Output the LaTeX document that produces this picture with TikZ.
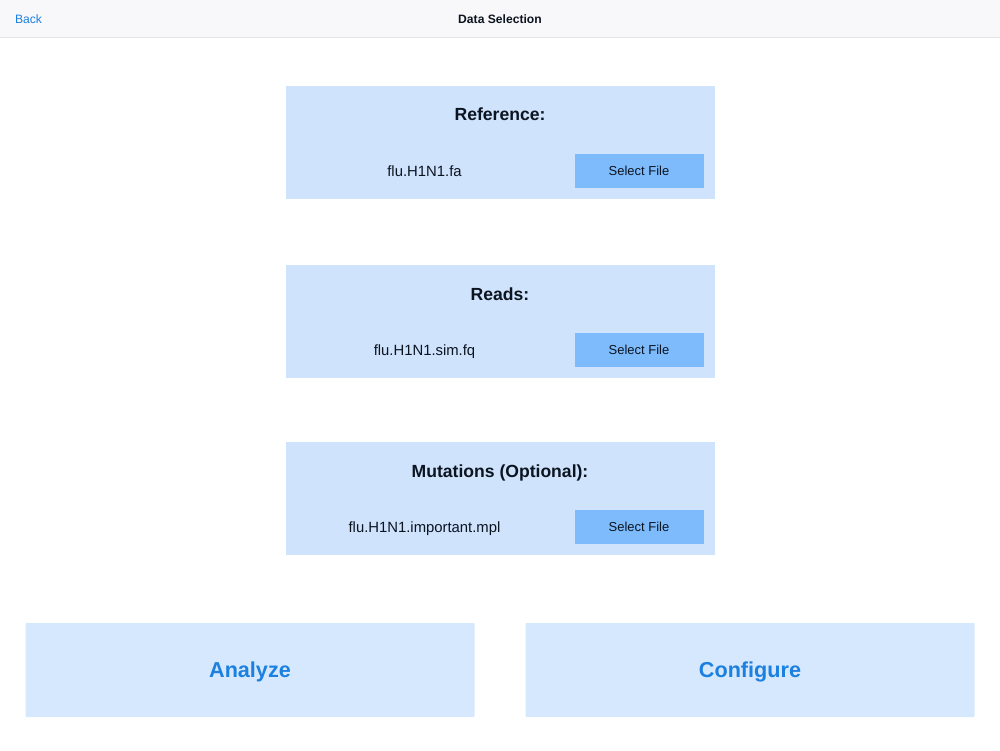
\documentclass[tikz,border=0pt]{standalone}
\usepackage{fontspec}
\setmainfont{Liberation Sans}
\definecolor{barfill}{HTML}{F8F7FA}
\definecolor{barline}{HTML}{E4E4E6}
\definecolor{linkblue}{HTML}{1B80E0}
\definecolor{panelfill}{HTML}{CFE3FD}
\definecolor{actionfill}{HTML}{D5E8FE}
\definecolor{buttonfill}{HTML}{7DBBFD}
\definecolor{inktext}{HTML}{0C1420}
\tikzset{
	panel/.style = {fill = panelfill, minimum width = 8.58cm, minimum height = 2.26cm, inner sep = 0},
	button/.style = {fill = buttonfill, text = inktext, minimum width = 2.58cm, minimum height = 0.68cm, inner sep = 0, font = \fontsize{7.4}{9}\selectfont},
	action/.style = {fill = actionfill, text = linkblue, minimum width = 8.98cm, minimum height = 1.88cm, inner sep = 0, rounded corners = 0.5pt, font = \fontsize{12.3}{15}\selectfont\bfseries},
	actionlabel/.style = {text = linkblue, inner sep = 0, text height = 0.32cm, text depth = 0cm, font = \fontsize{12.3}{15}\selectfont\bfseries},
	heading/.style = {text = inktext, inner sep = 0, text height = 0.26cm, text depth = 0cm, font = \fontsize{10}{12}\selectfont\bfseries},
	filename/.style = {text = inktext, inner sep = 0, text height = 0.22cm, text depth = 0cm, font = \fontsize{8.45}{11}\selectfont},
	barlabel/.style = {inner sep = 0, text height = 0.18cm, text depth = 0cm, font = \fontsize{6.9}{9}\selectfont}
}
\begin{document}
\begin{tikzpicture}
	
		\useasboundingbox (0, 0) rectangle (20, 15);
		
		% top bar
		\fill[barfill] (0, 14.26) rectangle (20, 15);
		\draw[barline, line width = 0.5pt] (0, 14.26) -- (20, 14.26);
		\node[barlabel, text = linkblue] (back) at (0.57, 14.61) {Back};
		\node[barlabel, text = inktext, font = \fontsize{6.9}{9}\selectfont\bfseries] (title) at (10, 14.61) {Data Selection};
		
		% reference
		\node[panel] (refpanel) at (10, 12.15) {};
		\node[heading] (reftitle) at (10, 12.71) {Reference:};
		\node[filename] (reffile) at (8.49, 11.57) {flu.H1N1.fa};
		\node[button] (refbutton) at (12.78, 11.58) {Select File};
		
		% reads
		\node[panel] (readspanel) at (10, 8.57) {};
		\node[heading] (readstitle) at (10, 9.13) {Reads:};
		\node[filename] (readsfile) at (8.49, 8) {flu.H1N1.sim.fq};
		\node[button] (readsbutton) at (12.78, 8) {Select File};
		
		% mutations
		\node[panel] (mutpanel) at (10, 5.03) {};
		\node[heading] (muttitle) at (10, 5.59) {Mutations (Optional):};
		\node[filename] (mutfile) at (8.49, 4.46) {flu.H1N1.important.mpl};
		\node[button] (mutbutton) at (12.78, 4.46) {Select File};
		
		% bottom buttons
		\node[action] (analyze) at (5, 1.6) {};
		\node[action] (configure) at (15, 1.6) {};
		\node[actionlabel] (analyzetext) at (5, 1.62) {Analyze};
		\node[actionlabel] (configuretext) at (15, 1.62) {Configure};
		
	\end{tikzpicture}
\end{document}
